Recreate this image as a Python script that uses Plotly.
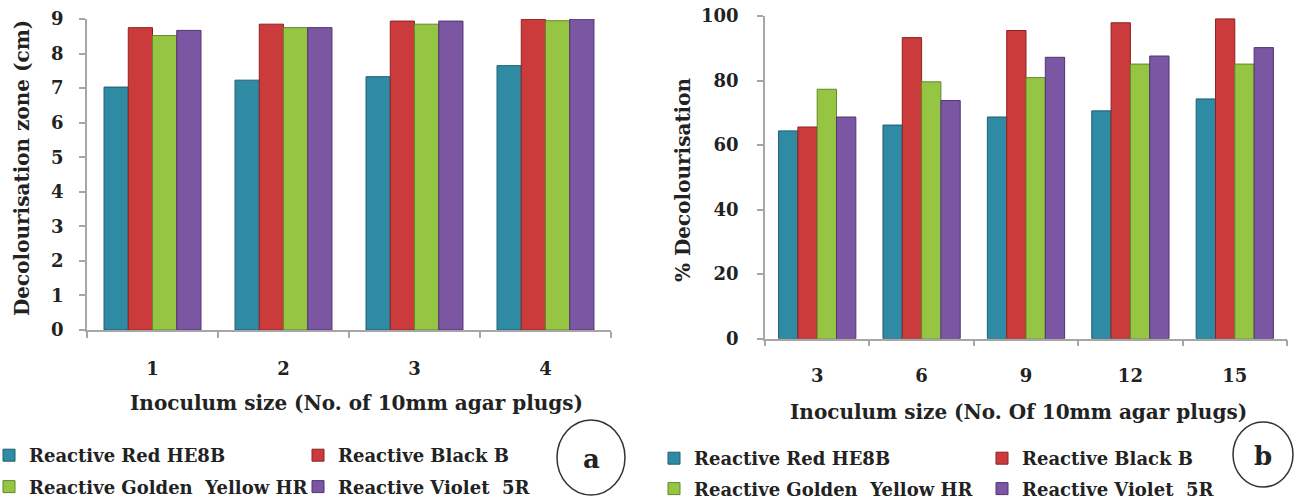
import plotly.graph_objects as go

# ---------------- data ----------------
cats_a = ["1", "2", "3", "4"]
cats_b = ["3", "6", "9", "12", "15"]
series_names = ["Reactive Red HE8B", "Reactive Black B",
                "Reactive Golden  Yellow HR", "Reactive Violet  5R"]

red_he8b_a = [7.03, 7.23, 7.33, 7.65]
black_b_a = [8.75, 8.85, 8.94, 8.99]
golden_a = [8.52, 8.75, 8.85, 8.95]
violet_a = [8.67, 8.75, 8.94, 9.00]

red_he8b_b = [64.4, 66.2, 68.7, 70.6, 74.3]
black_b_b = [65.6, 93.3, 95.5, 97.9, 99.1]
golden_b = [77.3, 79.6, 80.9, 85.1, 85.1]
violet_b = [68.7, 73.8, 87.2, 87.6, 90.2]

yticks_a = [0, 1, 2, 3, 4, 5, 6, 7, 8, 9]
yticks_b = [0, 20, 40, 60, 80, 100]

# ---------------- style ----------------
W, H = 1294, 501
FONT = "DejaVu Serif"
fill_colors = ["#2f8aa4", "#cc3b3b", "#96c443", "#7b56a3"]
edge_colors = ["#1d5f72", "#8e2222", "#5f8a25", "#4f3572"]
AXIS_COLOR = "#a6a6a6"


def px(x):
    return x / W


def py(y):
    return 1 - y / H


fig = go.Figure()

vals_a = [red_he8b_a, black_b_a, golden_a, violet_a]
vals_b = [red_he8b_b, black_b_b, golden_b, violet_b]
legends_a = ["legend", "legend2", "legend", "legend2"]
legends_b = ["legend3", "legend4", "legend3", "legend4"]

for i, name in enumerate(series_names):
    fig.add_trace(go.Bar(
        x=cats_a, y=vals_a[i], name=name, xaxis="x", yaxis="y",
        marker=dict(color=fill_colors[i], line=dict(color=edge_colors[i], width=1)),
        legend=legends_a[i], legendgroup=f"a{i}",
    ))
for i, name in enumerate(series_names):
    fig.add_trace(go.Bar(
        x=cats_b, y=vals_b[i], name=name, xaxis="x2", yaxis="y2",
        marker=dict(color=fill_colors[i], line=dict(color=edge_colors[i], width=1)),
        legend=legends_b[i], legendgroup=f"b{i}",
    ))

tickfont = dict(family=FONT, size=18, color="#222222", weight="bold")
common_x = dict(type="category", showline=True, linecolor=AXIS_COLOR, linewidth=1.5,
                ticks="outside", tickson="boundaries", ticklen=6, tickcolor=AXIS_COLOR,
                tickwidth=1.5, showgrid=False, zeroline=False, tickfont=tickfont)
common_y = dict(showline=True, linecolor=AXIS_COLOR, linewidth=1.5,
                ticks="outside", ticklen=6, tickcolor=AXIS_COLOR, tickwidth=1.5,
                showgrid=False, zeroline=False, tickfont=tickfont)


def legend_style(x, y, gap):
    return dict(orientation="v", x=x, y=y,
                font=dict(family=FONT, size=18, color="#222222", weight="bold"),
                bgcolor="rgba(0,0,0,0)", borderwidth=0, tracegroupgap=gap,
                xanchor="left", yanchor="top", itemclick=False, itemdoubleclick=False)


fig.update_layout(
    width=W, height=H,
    margin=dict(l=0, r=0, t=0, b=0, autoexpand=False),
    paper_bgcolor="white", plot_bgcolor="white",
    barmode="group", bargap=0.26, bargroupgap=0,
    xaxis=dict(domain=[px(87), px(611)], anchor="y", ticklabelstandoff=22, **common_x),
    yaxis=dict(domain=[py(330), py(19)], anchor="x", range=[0, 9], tickvals=yticks_a,
               ticklabelstandoff=12, **common_y),
    xaxis2=dict(domain=[px(765), px(1287)], anchor="y2", ticklabelstandoff=20, **common_x),
    yaxis2=dict(domain=[py(338.7), py(16)], anchor="x2", range=[0, 100], tickvals=yticks_b,
                ticklabelstandoff=15, **common_y),
    legend=legend_style(px(-11), py(437), 5),
    legend2=legend_style(px(298), py(437), 5),
    legend3=legend_style(px(654), py(440), 4),
    legend4=legend_style(px(982), py(440), 4),
    showlegend=True,
)

title_font = dict(family=FONT, size=20, color="#222222", weight="bold")
annotations = [
    dict(text="Inoculum size (No. of 10mm agar plugs)", x=px(356.5), y=py(403)),
    dict(text="Inoculum size (No. Of 10mm agar plugs)", x=px(1018), y=py(412)),
    dict(text="Decolourisation zone (cm)", x=px(22), y=py(168), textangle=-90),
    dict(text="% Decolourisation", x=px(683), y=py(180), textangle=-90),
]
for a in annotations:
    fig.add_annotation(xref="paper", yref="paper", xanchor="center", yanchor="middle",
                       showarrow=False, font=title_font, **a)

label_font = dict(family=FONT, size=26, color="#222222", weight="bold")
fig.add_annotation(text="a", x=px(591), y=py(459), xref="paper", yref="paper",
                   showarrow=False, font=label_font, xanchor="center", yanchor="middle")
fig.add_annotation(text="b", x=px(1263), y=py(456), xref="paper", yref="paper",
                   showarrow=False, font=label_font, xanchor="center", yanchor="middle")
fig.add_shape(type="circle", xref="paper", yref="paper",
              x0=px(557), x1=px(625), y0=py(495), y1=py(420),
              line=dict(color="#333333", width=1.5))
fig.add_shape(type="circle", xref="paper", yref="paper",
              x0=px(1233), x1=px(1293), y0=py(487), y1=py(422),
              line=dict(color="#333333", width=1.5))

fig.write_html("out.html")
